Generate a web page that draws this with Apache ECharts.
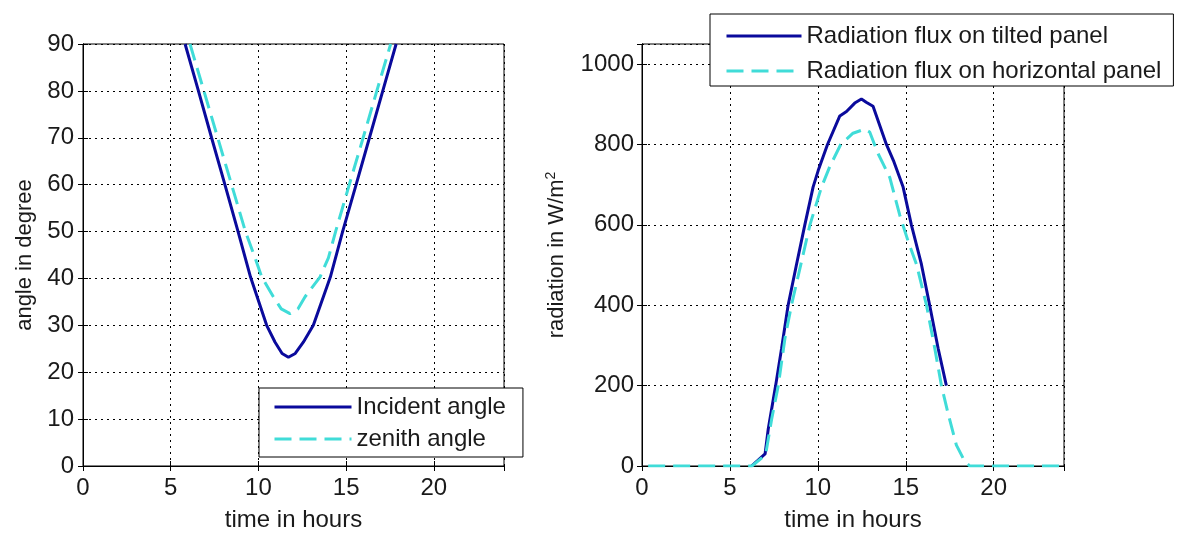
<!DOCTYPE html>
<html>
<head>
<meta charset="utf-8">
<script src="https://cdn.jsdelivr.net/npm/echarts@6/dist/echarts.min.js"></script>
<style>
  html, body { margin: 0; padding: 0; background: #fff; }
  #chart { width: 1178px; height: 537px; }
</style>
</head>
<body>
<div id="chart"></div>
<script>
// left panel: angles (deg) vs time (h)
var incidentHours = [5.82, 6.58, 7.33, 8.09, 8.84, 9.55, 10.47, 10.95, 11.35, 11.71, 12.1, 12.56, 13.13, 14.1, 14.8, 15.57, 16.33, 17.09, 17.85];
var incidentAngle = [90, 80, 70, 60, 50, 40.3, 30, 26.4, 24, 23.2, 24, 26.4, 30, 40.3, 50, 60, 70, 80, 90];
var zenithHours = [6.1, 6.89, 7.68, 8.47, 9.26, 9.81, 10.19, 10.85, 11.3, 11.8, 12.25, 12.66, 13.51, 13.99, 14.4, 15.18, 15.97, 16.75, 17.54];
var zenithAngle = [90, 80, 70, 60, 50, 44.4, 40.3, 36.1, 33.5, 32.5, 33.5, 36.1, 40.3, 44.4, 50, 60, 70, 80, 90];

// right panel: radiation flux (W/m2) vs time (h)
var tiltedHours = [6.23, 7.0, 7.18, 7.6, 7.94, 8.31, 8.79, 9.26, 9.73, 10.02, 10.55, 11.25, 11.63, 12.1, 12.48, 12.75, 13.14, 13.9, 14.3, 14.85, 15.32, 15.89, 16.36, 16.84, 17.31];
var tiltedFlux = [0, 30, 92, 200, 293, 400, 502, 600, 694, 735, 800, 871, 882, 903, 913, 905, 895, 800, 760, 694, 600, 502, 400, 293, 200];
var horizHours = [0.35, 6.25, 7.03, 7.37, 7.75, 8.13, 8.5, 9.55, 10.21, 10.68, 11.3, 12.0, 12.67, 12.95, 13.43, 14.09, 14.66, 15.13, 15.61, 16.18, 16.65, 17.03, 17.4, 17.88, 18.35, 18.64, 24];
var horizFlux = [0, 0, 28, 116, 200, 318, 400, 600, 694, 745, 800, 828, 838, 831, 777, 718, 624, 560, 502, 400, 293, 200, 132, 52, 12, 0, 0];

function pairs(xs, ys) {
    var out = [];
    for (var i = 0; i < xs.length; i++) out.push([xs[i], ys[i]]);
    return out;
}

var FONT = 'Liberation Sans, Arial, sans-serif';
var TXT = '#1a1a1a';
var NAVY = '#0a0a9c';
var CYAN = '#40dcd8';

var dotted = { show: true, lineStyle: { color: '#000', width: 1, type: [2, 4] } };

function xMain(grid) {
    return {
        type: 'value', gridIndex: grid, min: 0, max: 24, interval: 5,
        name: 'time in hours', nameLocation: 'middle', nameGap: 42,
        nameTextStyle: { fontSize: 24, fontFamily: FONT, color: TXT },
        axisLine: { lineStyle: { color: '#000', width: 1 } },
        axisTick: { inside: true, length: 5, lineStyle: { color: '#000' } },
        axisLabel: { fontSize: 24, fontFamily: FONT, color: TXT, margin: 10, showMaxLabel: false },
        splitLine: dotted
    };
}
function xMirror(grid) {
    return {
        type: 'value', gridIndex: grid, min: 0, max: 24, interval: 5, position: 'top',
        axisLine: { lineStyle: { color: '#000', width: 1 } },
        axisTick: { inside: true, length: 5, lineStyle: { color: '#000' } },
        axisLabel: { show: false }, splitLine: { show: false }
    };
}
function yMirror(grid, max, step) {
    return {
        type: 'value', gridIndex: grid, min: 0, max: max, interval: step, position: 'right',
        axisLine: { show: true, lineStyle: { color: '#000', width: 1 } },
        axisTick: { show: true, inside: true, length: 5, lineStyle: { color: '#000' } },
        axisLabel: { show: false }, splitLine: { show: false }
    };
}

var legendBase = {
    orient: 'vertical',
    itemHeight: 20,
    backgroundColor: '#fff', borderColor: '#000', borderWidth: 1,
    lineStyle: { width: 3 },
    itemStyle: { opacity: 0, borderWidth: 0 },
    textStyle: { fontSize: 24, fontFamily: FONT, color: TXT }
};

var chart = echarts.init(document.getElementById('chart'), null, { renderer: 'canvas' });

chart.setOption({
    backgroundColor: '#fff',
    animation: false,
    textStyle: { fontFamily: FONT },
    grid: [
        { left: 83, top: 44, width: 421, height: 434, show: true, borderColor: '#000', borderWidth: 1, backgroundColor: '#fff' },
        { left: 642, top: 44, width: 422, height: 434, show: true, borderColor: '#000', borderWidth: 1, backgroundColor: '#fff' }
    ],
    xAxis: [xMain(0), xMirror(0), xMain(1), xMirror(1)],
    yAxis: [
        {
            type: 'value', gridIndex: 0, min: 0, max: 90, interval: 10,
            name: 'angle in degree', nameLocation: 'middle', nameGap: 47,
            nameTextStyle: { fontSize: 22, fontFamily: FONT, color: TXT },
            axisLine: { show: true, lineStyle: { color: '#000', width: 1 } },
            axisTick: { show: true, inside: true, length: 5, lineStyle: { color: '#000' } },
            axisLabel: { fontSize: 24, fontFamily: FONT, color: TXT, margin: 9 },
            splitLine: dotted
        },
        yMirror(0, 90, 10),
        {
            type: 'value', gridIndex: 1, min: 0, max: 1050, interval: 200,
            name: 'radiation in W/m{sup|2}', nameLocation: 'middle', nameGap: 72,
            nameTextStyle: {
                fontSize: 22, fontFamily: FONT, color: TXT,
                rich: { sup: { fontSize: 14, fontFamily: FONT, color: TXT, padding: [0, 0, 12, 0] } }
            },
            axisLine: { show: true, lineStyle: { color: '#000', width: 1 } },
            axisTick: { show: true, inside: true, length: 5, lineStyle: { color: '#000' } },
            axisLabel: {
                fontSize: 24, fontFamily: FONT, color: TXT, margin: 8, showMaxLabel: false,
                formatter: function (v) { return String(v); }
            },
            splitLine: dotted
        },
        yMirror(1, 1050, 200)
    ],
    legend: [
        Object.assign({}, legendBase, {
            data: ['Incident angle', 'zenith angle'],
            left: 259, top: 388, itemWidth: 77, itemGap: 8,
            padding: [7, 17, 6, 14]
        }),
        Object.assign({}, legendBase, {
            data: ['Radiation flux on tilted panel', 'Radiation flux on horizontal panel'],
            left: 710, top: 14, itemWidth: 75, itemGap: 11,
            padding: [10, 12, 3, 15]
        })
    ],
    series: [
        {
            name: 'Incident angle', type: 'line', xAxisIndex: 0, yAxisIndex: 0,
            data: pairs(incidentHours, incidentAngle), symbol: 'none', clip: true,
            lineStyle: { color: NAVY, width: 3 }, itemStyle: { color: NAVY }, z: 3
        },
        {
            name: 'zenith angle', type: 'line', xAxisIndex: 0, yAxisIndex: 0,
            data: pairs(zenithHours, zenithAngle), symbol: 'none', clip: true,
            lineStyle: { color: CYAN, width: 3, type: [17, 8] }, itemStyle: { color: CYAN }, z: 4
        },
        {
            name: 'Radiation flux on tilted panel', type: 'line', xAxisIndex: 2, yAxisIndex: 2,
            data: pairs(tiltedHours, tiltedFlux), symbol: 'none', clip: true,
            lineStyle: { color: NAVY, width: 3 }, itemStyle: { color: NAVY }, z: 3
        },
        {
            name: 'Radiation flux on horizontal panel', type: 'line', xAxisIndex: 2, yAxisIndex: 2,
            data: pairs(horizHours, horizFlux), symbol: 'none', clip: true,
            lineStyle: { color: CYAN, width: 3, type: [17, 8] }, itemStyle: { color: CYAN }, z: 4
        }
    ]
});
</script>
</body>
</html>
